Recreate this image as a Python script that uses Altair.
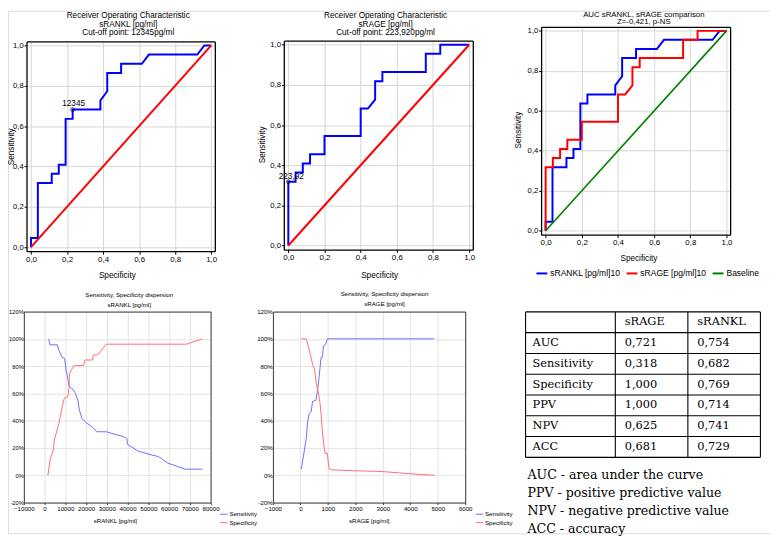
import altair as alt
import pandas as pd

W, H = 770, 528   # drawing size
M = 8             # page margin (reference pixel -> chart pixel)

FONT = "Liberation Sans"
SERIF = "DejaVu Serif"
GRID = "#d7d7d7"

# ---------------- ROC data (x: 1 - specificity, y: sensitivity) ----------------
RANKL_FPR = [0.0, 0.0, 0.038, 0.038, 0.115, 0.115, 0.154, 0.154, 0.192, 0.192, 0.231, 0.231,
             0.385, 0.385, 0.423, 0.423, 0.5, 0.5, 0.615, 0.654, 0.923, 0.962, 1.0]
RANKL_TPR = [0.0, 0.045, 0.045, 0.318, 0.318, 0.364, 0.364, 0.409, 0.409, 0.636, 0.636, 0.682,
             0.682, 0.727, 0.773, 0.864, 0.864, 0.909, 0.909, 0.955, 0.955, 1.0, 1.0]
RAGE_FPR = [0.0, 0.0, 0.04, 0.04, 0.08, 0.08, 0.12, 0.12, 0.2, 0.2, 0.4, 0.4,
            0.44, 0.48, 0.48, 0.52, 0.52, 0.76, 0.76, 0.84, 0.84, 1.0]
RAGE_TPR = [0.0, 0.318, 0.318, 0.364, 0.364, 0.409, 0.409, 0.455, 0.455, 0.545, 0.545, 0.682,
            0.682, 0.727, 0.818, 0.818, 0.864, 0.864, 0.955, 0.955, 1.0, 1.0]
BASE_X = [0.0, 1.0]
BASE_Y = [0.0, 1.0]
RANKL_CUT_X, RANKL_CUT_Y, RANKL_CUT_LABEL = [0.231], [0.682], ["12345"]
RAGE_CUT_X, RAGE_CUT_Y, RAGE_CUT_LABEL = [0.0], [0.318], ["223,92"]
ROC_TICKS = [0.0, 0.2, 0.4, 0.6, 0.8, 1.0]
SERIES = ["sRANKL [pg/ml]10", "sRAGE [pg/ml]10", "Baseline"]

# ---------------- sensitivity / specificity dispersion ----------------
RANKL_SENS_X = [1900, 2650, 6160, 6940, 8450, 9680, 10270, 11190, 11780, 13010, 14520, 16070, 16800,
                18040, 19860, 22920, 25200, 29770, 33560, 38130, 39640, 39950, 44980, 50320, 54890,
                59450, 64020, 67810, 76170]
RANKL_SENS_Y = [100, 95.6, 95.6, 91.3, 86.5, 85.7, 78, 70.7, 65.4, 63.9, 61, 54.9, 47.6,
                41.6, 38.7, 35.6, 31.9, 31.9, 30.2, 28.3, 27, 22.7, 17.8, 15.4, 13.7,
                8.9, 6.5, 4.5, 4.5]
RANKL_SPEC_X = [1600, 2650, 4200, 4660, 6940, 8450, 9500, 11190, 11780, 11960, 12690, 14250, 18810,
                19410, 23200, 23380, 25660, 29770, 68260, 76170]
RANKL_SPEC_Y = [0, 11.3, 18.5, 25.8, 38, 50, 56.5, 57.8, 63.9, 74.3, 76.7, 80.4, 80.4,
                84.5, 84.5, 88.1, 88.4, 96.1, 96.1, 100]
RAGE_SENS_X = [32, 119, 213, 263, 321, 393, 443, 562, 634, 681, 717, 753, 802, 838, 922, 982, 4870]
RAGE_SENS_Y = [4.5, 14.9, 27, 39.2, 45.2, 46.5, 54.2, 54.9, 63.4, 71.9, 79.2, 86.5, 86.5, 94.9, 96.1, 100, 100]
RAGE_SPEC_X = [32, 213, 299, 357, 454, 514, 573, 659, 717, 753, 802, 838, 898, 982, 1042, 1138,
               1978, 2940, 4020, 4885]
RAGE_SPEC_Y = [100, 100, 93.7, 88.9, 80.4, 78, 68.3, 59.8, 52.5, 45.2, 31.9, 24.7, 16.1, 16.1, 4.7, 4.0,
               3.3, 2.8, 1.1, 0]
PCT_TICKS = [-20, 0, 20, 40, 60, 80, 100, 120]
RANKL_TICKS = [-10000, 0, 10000, 20000, 30000, 40000, 50000, 60000, 70000, 80000]
RAGE_TICKS = [-1000, 0, 1000, 2000, 3000, 4000, 5000, 6000]
DISP_SERIES = ["Sensitivity", "Specificity"]

# ---------------- table ----------------
TABLE_HEADER = ["", "sRAGE", "sRANKL"]
TABLE_METRICS = ["AUC", "Sensitivity", "Specificity", "PPV", "NPV", "ACC"]
SRAGE_VALUES = ["0,721", "0,318", "1,000", "1,000", "0,625", "0,681"]
SRANKL_VALUES = ["0,754", "0,682", "0,769", "0,714", "0,741", "0,729"]
FOOTNOTES = ["AUC - area under the curve", "PPV - positive predictive value",
             "NPV - negative predictive value", "ACC - accuracy"]

# ---------------- layout (reference pixels) ----------------
F1 = (26.7, 217.0, 39.0, 251.0)     # left, right, top, bottom
F2 = (286.7, 477.7, 38.3, 249.3)
F3 = (546.7, 737.7, 24.3, 234.3)
F4 = (24.0, 212.7, 312.0, 505.0)
F5 = (275.7, 470.0, 312.0, 505.0)
TABLE_COLS_PX = [531.0, 621.7, 695.0, 768.3]
TABLE_ROWS_PX = [312.3, 459.3]


def line_df(xs, ys, series=""):
    return pd.DataFrame({"x": xs, "y": ys, "i": list(range(len(xs))), "series": series})


def sc(domain, lo, hi):
    return alt.Scale(domain=domain, range=[lo - M, hi - M], nice=False, zero=False)


def ax(orient, fr, values, grid=False, labels=False, ticks=False, fmt=None, lfs=8.0, tsize=3,
       lpad=1, title=None, tx=0, ty=0, tfs=8.3, tlh=10, tbase="middle", dcol="black", dw=1.3,
       gcol=GRID):
    l, r, t, b = fr
    off = {"top": -(t - M), "bottom": (b - M) - H, "left": -(l - M), "right": (r - M) - W}[orient]
    kw = dict(orient=orient, offset=off, grid=grid, labels=labels, ticks=ticks, values=values,
              domain=True, domainColor=dcol, domainWidth=dw, title=title)
    if grid:
        kw.update(gridColor=gcol, gridWidth=1)
    if labels:
        kw.update(labelFontSize=lfs, labelPadding=lpad, labelFlush=False, labelOverlap=False,
                  labelColor="black", labelFont=FONT)
        if fmt:
            kw["labelExpr"] = fmt
    if ticks:
        kw.update(tickSize=tsize, tickColor=dcol, tickWidth=1)
    if title is not None:
        kw.update(titleFontSize=tfs, titleLineHeight=tlh, titleBaseline=tbase, titleAlign="center",
                  titleFontWeight="normal", titleColor="black", titleFont=FONT)
        if orient == "top":
            kw.update(titleX=tx - M, titleY=ty - t)
        elif orient == "bottom":
            kw.update(titleX=tx - M, titleY=ty - b)
        elif orient == "left":
            kw.update(titleX=tx - l, titleY=ty - M, titleAngle=270)
    return alt.Axis(**kw)


ROC_FMT = "replace(format(datum.value, '.1f'), '.', ',')"


def lines_layer(df, xs, ys, axx, axy, color, sw, cscale=None, legend=None):
    enc = dict(x=alt.X("x:Q", scale=xs, axis=axx), y=alt.Y("y:Q", scale=ys, axis=axy),
               order=alt.Order("i:Q"))
    if cscale is not None:
        enc["color"] = alt.Color("series:N", scale=cscale, legend=legend)
    else:
        enc["color"] = alt.value(color)
    return alt.Chart(df).mark_line(strokeWidth=sw, interpolate="linear").encode(**enc)


def roc_panel(fr, curves, title, tx, ttop, tlh, tfs, xt, yt, cut=None, cscale=None, legend=None):
    l, r, t, b = fr
    xs = sc([-0.025, 1.02], l, r)
    ys = sc([-0.02, 1.02], b, t)
    a_top = ax("top", fr, ROC_TICKS, grid=True, title=title, tx=tx, ty=ttop, tlh=tlh, tfs=tfs,
               tbase="top")
    a_left = ax("left", fr, ROC_TICKS, grid=True, labels=True, ticks=True, fmt=ROC_FMT, lfs=7.8,
                tsize=2.5, lpad=0.8, title="Sensitivity", tx=yt[0], ty=yt[1])
    a_bottom = ax("bottom", fr, ROC_TICKS, labels=True, ticks=True, fmt=ROC_FMT,
                  title="Specificity", tx=xt[0], ty=xt[1])
    a_right = ax("right", fr, ROC_TICKS)
    axes = [(a_top, a_left), (a_bottom, a_right)]
    layers = []
    for k, (df, colr, sw) in enumerate(curves):
        axx, axy = axes[k] if k < 2 else (None, None)
        layers.append(lines_layer(df, xs, ys, axx, axy, colr, sw, cscale, legend))
    if cut is not None:
        cdf, dx, dy = cut
        base = alt.Chart(cdf).encode(x=alt.X("x:Q", scale=xs, axis=None),
                                     y=alt.Y("y:Q", scale=ys, axis=None))
        layers.append(base.mark_point(shape="circle", size=14, filled=False, color="black",
                                      strokeWidth=1))
        layers.append(base.mark_text(fontSize=8.3, font=FONT, color="black", dx=dx, dy=dy,
                                     baseline="middle").encode(text="label:N"))
    return alt.layer(*layers).resolve_axis(x="independent", y="independent")


def disp_panel(fr, sens, spec, xdom, xticks, title, tx, ttop, xtitle, xt, legx, ylfs):
    l, r, t, b = fr
    xs = sc(xdom, l, r)
    ys = sc([-20, 120], b, t)
    lfs = 6.2
    dcol = "#3a3a3a"
    a_top = ax("top", fr, xticks, grid=True, title=title, tx=tx, ty=ttop, tfs=6.2, tlh=10.3,
               tbase="top", dcol=dcol, dw=1, gcol="#e2e2e2")
    a_left = ax("left", fr, PCT_TICKS, grid=True, labels=True, ticks=False, lpad=0.6,
                fmt="datum.value + '%'", lfs=ylfs, dcol=dcol, dw=1, gcol="#e2e2e2")
    a_bottom = ax("bottom", fr, xticks, labels=True, ticks=True, tsize=2,
                  fmt="format(datum.value, 'd')", lfs=lfs, title=xtitle, tx=xt[0], ty=xt[1],
                  tfs=6.2, dcol=dcol, dw=1)
    a_right = ax("right", fr, PCT_TICKS, dcol=dcol, dw=1)
    cscale = alt.Scale(domain=DISP_SERIES, range=["#6e6eff", "#ff6e6e"])
    legend = alt.Legend(orient="none", legendX=legx - M, legendY=516 - M - 3.8, direction="vertical",
                        title=None, labelFontSize=6.2, labelFont=FONT, labelColor="black",
                        symbolType="stroke", symbolSize=58, symbolStrokeWidth=1, labelOffset=1,
                        rowPadding=0.6, padding=0)
    s1 = lines_layer(sens, xs, ys, a_top, a_left, None, 1, cscale, legend)
    s2 = lines_layer(spec, xs, ys, a_bottom, a_right, None, 1, cscale, legend)
    return alt.layer(s1, s2).resolve_axis(x="independent", y="independent")


# ---------------- panels ----------------
p1 = roc_panel(
    F1,
    [(line_df(RANKL_FPR, RANKL_TPR), "#0000ff", 2), (line_df(BASE_X, BASE_Y), "#ff0000", 2)],
    ["Receiver Operating Characteristic", "sRANKL [pg/ml]", "Cut-off point: 12345pg/ml"],
    129, 8.3, 8.6, 8.3, (118, 276), (12.0, 145),
    cut=(pd.DataFrame({"x": RANKL_CUT_X, "y": RANKL_CUT_Y, "label": RANKL_CUT_LABEL}), 1, -5.5))

p2 = roc_panel(
    F2,
    [(line_df(RAGE_FPR, RAGE_TPR), "#0000ff", 2), (line_df(BASE_X, BASE_Y), "#ff0000", 2)],
    ["Receiver Operating Characteristic", "sRAGE [pg/ml]", "Cut-off point: 223,920pg/ml"],
    389, 8.3, 8.6, 8.3, (383, 276), (265, 143),
    cut=(pd.DataFrame({"x": RAGE_CUT_X, "y": RAGE_CUT_Y, "label": RAGE_CUT_LABEL}), 3, -5))

roc_scale = alt.Scale(domain=SERIES, range=["#0000ff", "#ff0000", "#008000"])
roc_legend = alt.Legend(orient="none", legendX=541 - M, legendY=272 - M - 5.5, direction="horizontal",
                        title=None, labelFontSize=8.6, labelFont=FONT, labelColor="black",
                        symbolType="stroke", symbolSize=121, symbolStrokeWidth=2, labelOffset=2,
                        columnPadding=2, padding=0, labelLimit=300)
p3 = roc_panel(
    F3,
    [(line_df(RANKL_FPR, RANKL_TPR, SERIES[0]), None, 2),
     (line_df(RAGE_FPR, RAGE_TPR, SERIES[1]), None, 2),
     (line_df(BASE_X, BASE_Y, SERIES[2]), None, 1.6)],
    ["AUC sRANKL, sRAGE comparison", "Z=-0,421, p-NS"],
    650, 7.4, 7.9, 7.9, (645, 258), (524, 128), cscale=roc_scale, legend=roc_legend)

p4 = disp_panel(F4, line_df(RANKL_SENS_X, RANKL_SENS_Y, "Sensitivity"),
                line_df(RANKL_SPEC_X, RANKL_SPEC_Y, "Specificity"),
                [-10000, 80000], RANKL_TICKS,
                ["Sensitivity, Specificity dispersion", "sRANKL [pg/ml]"], 130, 291.3,
                "sRANKL [pg/ml]", (116, 523), 221.7, 5.8)

p5 = disp_panel(F5, line_df(RAGE_SENS_X, RAGE_SENS_Y, "Sensitivity"),
                line_df(RAGE_SPEC_X, RAGE_SPEC_Y, "Specificity"),
                [-1000, 6000], RAGE_TICKS,
                ["Sensitivity, Specificity dispersion", "sRAGE [pg/ml]"], 388, 290.8,
                "sRAGE [pg/ml]", (372.5, 523), 480, 6.2)

# ---------------- table ----------------
cells = []
for ci, h in enumerate(TABLE_HEADER):
    cells.append({"row": 0, "col": ci, "text": h})
for ri, (m_, a_, b_) in enumerate(zip(TABLE_METRICS, SRAGE_VALUES, SRANKL_VALUES), start=1):
    cells += [{"row": ri, "col": 0, "text": m_}, {"row": ri, "col": 1, "text": a_},
              {"row": ri, "col": 2, "text": b_}]
cells_df = pd.DataFrame(cells)
n_rows = len(TABLE_METRICS) + 1
n_cols = len(TABLE_HEADER)

tx_scale = alt.Scale(domain=list(range(n_cols + 1)), range=[c - M for c in TABLE_COLS_PX],
                     nice=False, zero=False)
ty_scale = alt.Scale(domain=[0, n_rows], range=[TABLE_ROWS_PX[0] - M, TABLE_ROWS_PX[1] - M],
                     nice=False, zero=False)

cell_base = alt.Chart(cells_df).transform_calculate(yc="datum.row + 0.5").encode(
    x=alt.X("col:Q", scale=tx_scale, axis=None),
    y=alt.Y("yc:Q", scale=ty_scale, axis=None),
    text="text:N")
txt_labels = cell_base.transform_filter("datum.col == 0").mark_text(
    align="left", baseline="middle", dx=7, font=SERIF, fontSize=11.5, color="black")
txt_values = cell_base.transform_filter("datum.col > 0").mark_text(
    align="left", baseline="middle", dx=9.5, font=SERIF, fontSize=11.5, color="black")

hl = pd.DataFrame({"b": list(range(n_rows + 1)), "a0": 0, "a1": n_cols})
vl = pd.DataFrame({"b": list(range(n_cols + 1)), "a0": 0, "a1": n_rows})
h_rules = alt.Chart(hl).mark_rule(color="black", strokeWidth=1.1).encode(
    y=alt.Y("b:Q", scale=ty_scale, axis=None),
    x=alt.X("a0:Q", scale=tx_scale, axis=None), x2="a1:Q")
v_rules = alt.Chart(vl).mark_rule(color="black", strokeWidth=1.1).encode(
    x=alt.X("b:Q", scale=tx_scale, axis=None),
    y=alt.Y("a0:Q", scale=ty_scale, axis=None), y2="a1:Q")
table = alt.layer(h_rules, v_rules, txt_labels, txt_values)

foot = alt.Chart(pd.DataFrame({"k": [0]})).mark_text(
    align="left", baseline="top", font=SERIF, fontSize=12.7, lineHeight=18.2, color="black"
).encode(x=alt.value(533 - M), y=alt.value(471.5 - M), text=alt.value(FOOTNOTES))

chart = alt.layer(p1, p2, p3, p4, p5, table, foot).resolve_scale(
    x="independent", y="independent", color="independent"
).properties(
    width=W, height=H, autosize=alt.AutoSizeParams(type="none"), padding=0
).configure_view(stroke="transparent").configure(font=FONT)

chart.save("out.html", embed_options={"renderer": "svg", "actions": False})
